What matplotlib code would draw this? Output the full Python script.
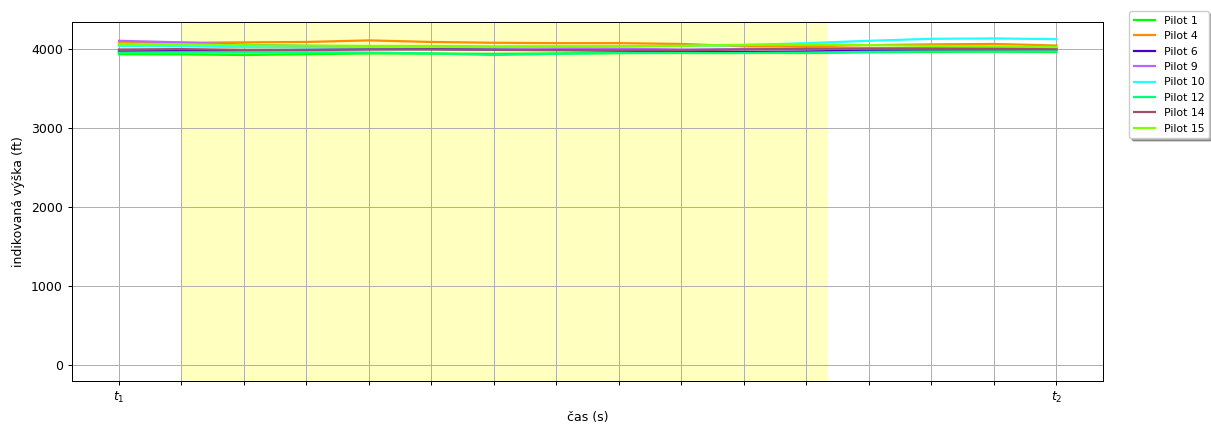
import numpy as np
import matplotlib.pyplot as plt

# --- data ---
t = list(range(16))  # tick positions, t1 .. t2
pilots = ["Pilot 1", "Pilot 4", "Pilot 6", "Pilot 9", "Pilot 10", "Pilot 12", "Pilot 14", "Pilot 15"]
colors = ["#00ff00", "#ff8c00", "#4b00c8", "#b866ff", "#22ffff", "#00ff7f", "#a0506e", "#80ff00"]

alt_p1 = [3930, 3928, 3920, 3930, 3940, 3938, 3935, 3940, 3945, 3948, 3950, 3945, 3955, 3960, 3962, 3958]
alt_p4 = [4070, 4075, 4080, 4085, 4105, 4085, 4075, 4070, 4070, 4060, 4030, 4030, 4045, 4055, 4060, 4040]
alt_p6 = [3965, 3970, 3975, 3985, 3995, 3995, 3990, 3985, 3975, 3965, 3960, 3965, 3975, 3985, 3988, 3990]
alt_p9 = [4100, 4080, 4050, 4035, 4030, 4025, 4020, 4010, 4000, 3990, 3995, 4000, 4005, 4010, 4010, 4010]
alt_p10 = [4035, 4030, 4020, 4015, 4015, 4020, 4020, 4025, 4030, 4035, 4045, 4070, 4100, 4125, 4130, 4120]
alt_p12 = [3950, 3955, 3955, 3955, 3950, 3940, 3920, 3935, 3945, 3945, 3945, 3950, 3960, 3965, 3965, 3965]
alt_p14 = [3990, 3995, 3985, 3985, 3990, 3990, 3985, 3980, 3980, 3980, 3990, 4000, 4000, 3995, 3995, 3995]
alt_p15 = [4060, 4055, 4045, 4040, 4035, 4035, 4030, 4030, 4030, 4035, 4050, 4055, 4045, 4035, 4030, 4020]

series = [alt_p1, alt_p4, alt_p6, alt_p9, alt_p10, alt_p12, alt_p14, alt_p15]
span = (1, 11.35)  # highlighted interval

# reference looks like a 90 dpi render, so scale everything by 0.9
s = 0.9
plt.rcParams.update({
    "font.size": 10 * s,
    "axes.linewidth": 0.8 * s,
    "grid.linewidth": 0.8 * s,
    "xtick.major.width": 0.8 * s,
    "ytick.major.width": 0.8 * s,
    "xtick.major.size": 3.5 * s,
    "ytick.major.size": 3.5 * s,
})

fig, ax = plt.subplots(figsize=(12.11, 4.26), dpi=100)
fig.subplots_adjust(left=0.0595, right=0.911, bottom=0.106, top=0.948)

ax.axvspan(span[0], span[1], color="yellow", alpha=0.25, linewidth=0)
for name, vals, c in zip(pilots, series, colors):
    ax.plot(t, vals, color=c, label=name, linewidth=1.6)

ax.set_xticks(t)
ax.set_xticklabels(["$t_1$"] + [""] * 14 + ["$t_2$"])
ax.set_xlim(-0.75, 15.75)
ax.set_ylim(-206, 4336)
ax.set_xlabel("čas (s)")
ax.set_ylabel("indikovaná výška (ft)")
ax.grid(True)
ax.legend(loc="upper left", bbox_to_anchor=(1.02, 1.045), fontsize=7.8, shadow=True)

plt.savefig("out.png", dpi=100)
